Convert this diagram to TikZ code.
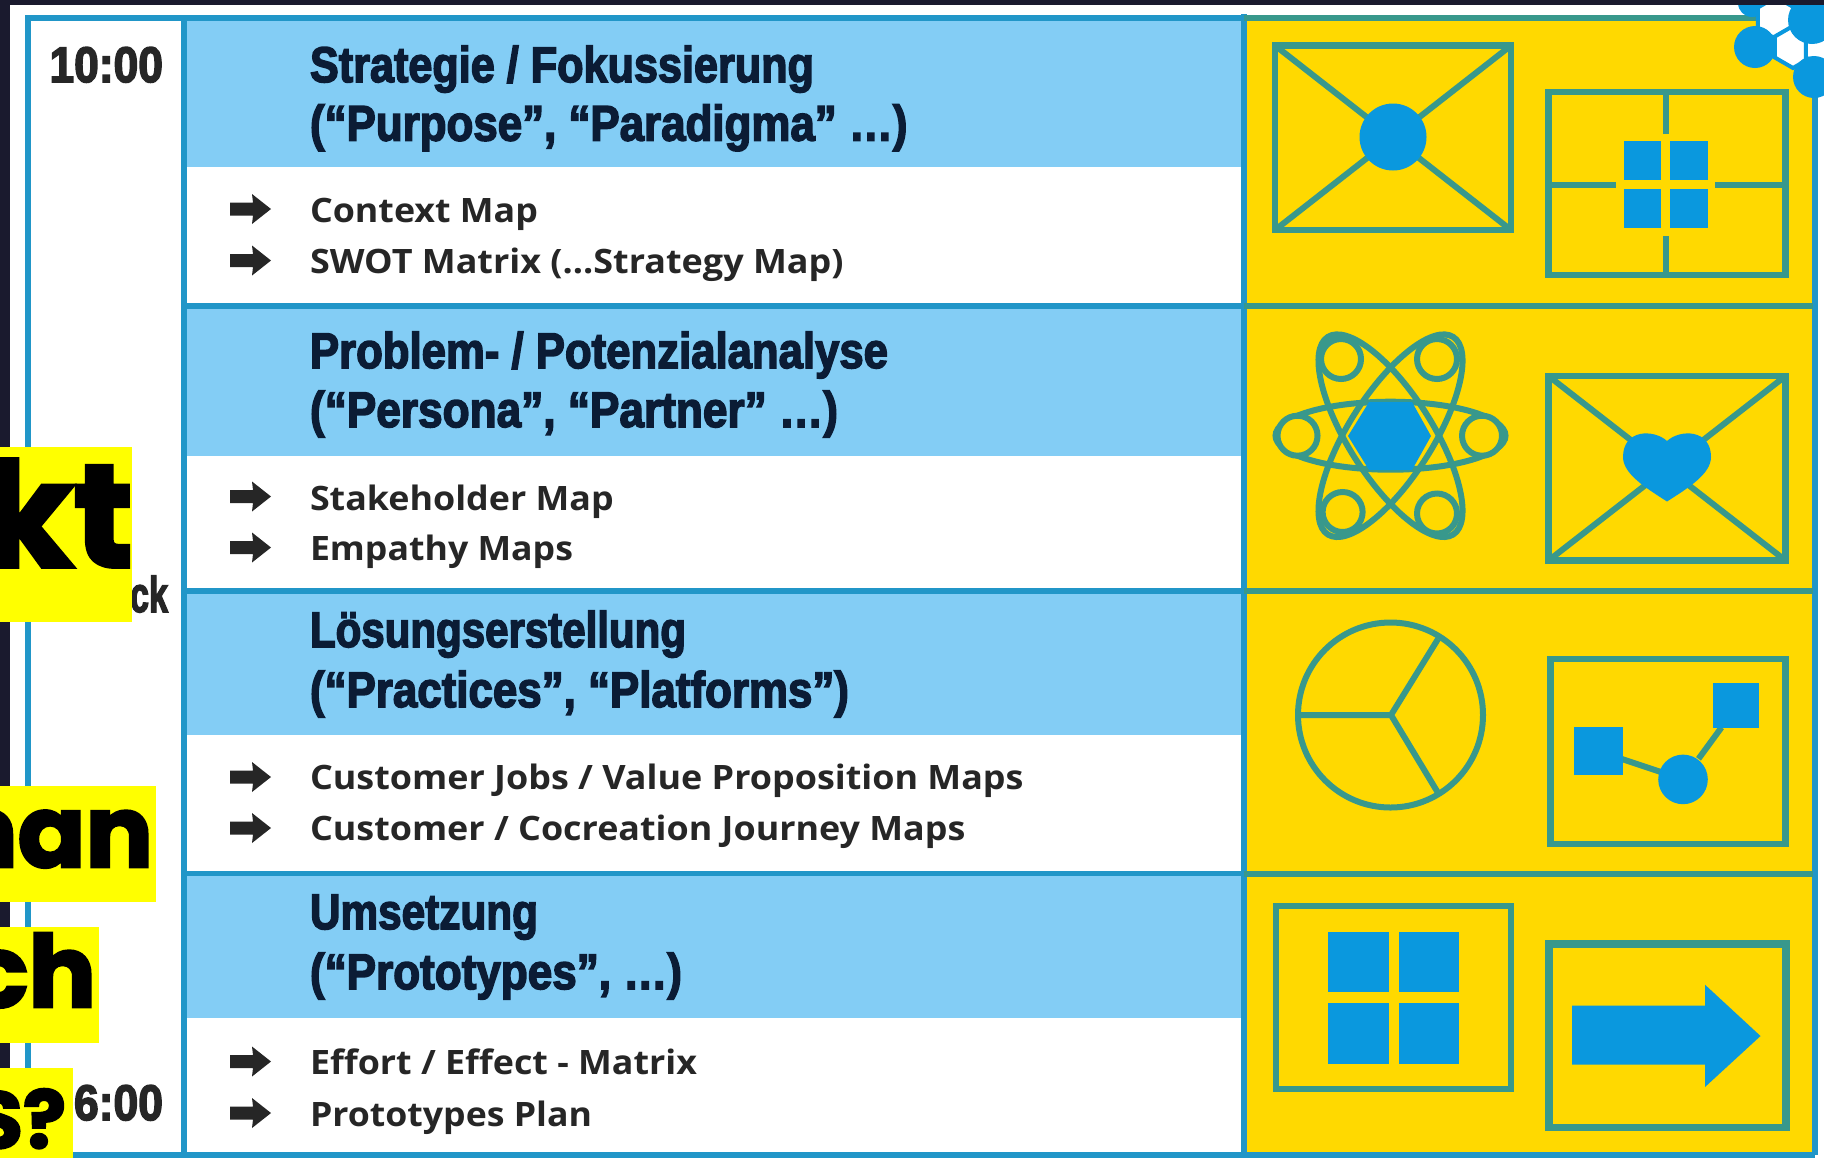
\documentclass[tikz,border=0pt]{standalone}
\usepackage{fontspec}
\usepackage{graphicx}
\setmainfont{Liberation Sans}
\newfontfamily\hdfont[FakeBold=3.2]{Liberation Sans Bold}
\newfontfamily\itfont{Open Sans}
\newfontfamily\bigfont[FakeBold=2.6]{Poppins Bold}
\definecolor{darkbg}{HTML}{1A1A2E}
\definecolor{frameblue}{HTML}{2196C8}
\definecolor{teal}{HTML}{38988C}
\definecolor{fillblue}{HTML}{0A98DE}
\definecolor{headblue}{HTML}{83CDF5}
\definecolor{panel}{HTML}{FFD900}
\definecolor{hilite}{HTML}{FFFF00}
\definecolor{hdtext}{HTML}{0B1C35}
\definecolor{ittext}{HTML}{262626}
\tikzset{
  frameline/.style={draw=frameblue,line width=2.9pt},
  panelline/.style={draw=teal,line width=3pt},
  iconbox/.style={draw=teal,line width=3.3pt,fill=none,miter limit=10},
  iconthin/.style={draw=teal,line width=3pt},
  bluefill/.style={fill=fillblue,draw=none},
  txt/.style={inner sep=0pt,outer sep=0pt,anchor=base west},
  txtr/.style={inner sep=0pt,outer sep=0pt,anchor=base east},
  hilitebox/.style={fill=hilite,draw=none},
  itemarrow/.style={fill=ittext,draw=none},
  hexcell/.style={fill=white,draw=fillblue,line width=2pt,line join=miter},
}
% name, x, baseline, x-end, text
\newcommand{\hdl}[5]{\node[txt,text=hdtext] (#1) at (#2,#3) {\resizebox{\dimexpr(#4pt-#2pt)/2\relax}{\height}{\fontsize{25}{25}\hdfont #5}};}
\newcommand{\itl}[5]{\node[txt,text=ittext] (#1) at (#2,#3) {\resizebox{\dimexpr(#4pt-#2pt)/2\relax}{\height}{\fontsize{16.8}{17}\itfont\bfseries #5}};}
\newcommand{\arw}[1]{\fill[itemarrow] (230,#1-6.5) -- (253,#1-6.5) -- (252,#1-15) -- (271,#1) -- (252,#1+15) -- (253,#1+6.5) -- (230,#1+6.5) -- cycle;}
\newcommand{\hexa}[3]{\path[hexcell] (#1,#2) ++(90:#3) -- ++(-30:#3) -- ++(-90:#3) -- ++(-150:#3) -- ++(150:#3) -- ++(90:#3) -- cycle;}
\begin{document}
\begin{tikzpicture}[x=0.5pt,y=-0.5pt]
\useasboundingbox (0,0) rectangle (1824,1158);
\begin{scope}
\clip (0,0) rectangle (1824,1158);
% page
\fill[white] (0,0) rectangle (1824,1158);
\fill[darkbg] (0,0) rectangle (10,1158);
% panels
\fill[panel] (1244,18) rectangle (1813,1155);
\foreach \a/\b in {18/166.5,306/456,591/735,873.5/1018}
  \fill[headblue] (184,\a) rectangle (1244,\b);
% frame
\draw[frameline] (28,18) -- (28,1155);
\draw[frameline] (184,18) -- (184,1155);
\draw[frameline] (1244,14) -- (1244,1155);
\draw[frameline] (1815,18) -- (1815,1155);
\draw[frameline] (25,18) -- (1244,18);
\draw[panelline] (1244,18) -- (1815,18);
\foreach \y in {306,591,873.5}{
  \draw[frameline] (184,\y) -- (1244,\y);
  \draw[panelline] (1244,\y) -- (1813,\y);
}
\draw[frameline] (25,1155) -- (1815,1155);
% icon A: envelope with circle
\draw[iconbox] (1275,45.5) rectangle (1511,230);
\draw[iconthin] (1275,45.5) -- (1511,230) (1511,45.5) -- (1275,230);
\fill[bluefill] (1393,137) circle (33.5);
% icon B: cross with squares
\draw[iconbox] (1548.5,92) rectangle (1785.5,275);
\draw[iconthin] (1666,92) -- (1666,133.5) (1666,236) -- (1666,275)
  (1548.5,185) -- (1615.5,185) (1715,185) -- (1785.5,185);
\fill[bluefill] (1624,141) rectangle (1661,180);
\fill[bluefill] (1670,141) rectangle (1708,180);
\fill[bluefill] (1624,189) rectangle (1661,228);
\fill[bluefill] (1670,189) rectangle (1708,228);
% icon C: atom
\begin{scope}[shift={(1390.5,435.7)}]
\draw[iconthin] (0,0) ellipse[x radius=115,y radius=34];
\draw[iconthin] (0,0) ellipse[x radius=117,y radius=42,rotate=57.6];
\draw[iconthin] (0,0) ellipse[x radius=117,y radius=42,rotate=-57.6];
\end{scope}
\foreach \p in {(1341,359),(1437,359),(1342.6,512),(1437,513.5),(1297.5,435.7),(1482,435.7)}
  \draw[iconthin,fill=panel] \p circle (20);
\fill[bluefill] (1348,436) -- (1369,402) -- (1412,402) -- (1431,436) -- (1412,470) -- (1369,470) -- cycle;
% icon D: envelope with heart
\draw[iconbox] (1548.5,376) rectangle (1785.5,560.5);
\draw[iconthin] (1548.5,376) -- (1785.5,560.5) (1785.5,376) -- (1548.5,560.5);
\fill[bluefill] (1667,441) .. controls (1680,429) and (1711,429) .. (1711,457)
  .. controls (1711,474) and (1688,488) .. (1667,501.5)
  .. controls (1646,488) and (1623,474) .. (1623,457)
  .. controls (1623,429) and (1654,429) .. (1667,441) -- cycle;
% icon E: pie
\draw[iconthin] (1390.5,715) circle (92.5);
\draw[iconthin] (1298.6,715) -- (1391,715) (1438,639) -- (1391,715) -- (1437.5,792);
% icon F: network
\draw[iconbox] (1550.5,659) rectangle (1785.5,844);
\draw[iconthin] (1622,759) -- (1660,771.7) (1698.5,758.8) -- (1721.5,727.4);
\fill[bluefill] (1574,727.4) rectangle (1623,774.6);
\fill[bluefill] (1713,682.5) rectangle (1759,728);
\fill[bluefill] (1683,779.4) circle (24.8);
% icon G: four squares
\draw[iconbox] (1276,906) rectangle (1511,1089);
\fill[bluefill] (1327.7,932) rectangle (1388.6,992);
\fill[bluefill] (1399,932) rectangle (1459.4,992);
\fill[bluefill] (1327.7,1003) rectangle (1388.6,1063.6);
\fill[bluefill] (1399,1003) rectangle (1459.4,1063.6);
% icon H: arrow box
\draw[iconbox,line width=3.6pt] (1549,944) rectangle (1786,1127.5);
\fill[bluefill] (1572,1005.7) -- (1705,1005.7) -- (1705,984.7) -- (1760.5,1036) -- (1705,1087) -- (1705,1064.7) -- (1572,1064.7) -- cycle;
% molecule
\fill[fillblue] (1752,3) circle (14);
\hexa{1776}{18}{21}
\hexa{1793}{47}{21}
\hexa{1824}{47}{21}
\fill[fillblue] (1755,47) circle (21);
\fill[fillblue] (1814,77) circle (21);
\fill[fillblue] (1812,20) circle (24);
% top dark band
\fill[darkbg] (0,0) rectangle (1824,5);
% times and leftover label
\node[txtr,text=ittext] (tstart) at (163,82) {\resizebox{56.75pt}{\height}{\fontsize{25}{25}\hdfont 10:00}};
\node[txtr,text=ittext] (tbreak) at (168,612) {\resizebox{19pt}{\height}{\fontsize{25}{25}\hdfont ck}};
\node[txtr,text=ittext] (tend) at (163,1120) {\resizebox{44.5pt}{\height}{\fontsize{25}{25}\hdfont 6:00}};
% headings
\hdl{ha}{310}{82}{814}{Strategie / Fokussierung}
\hdl{hb}{310}{140.6}{907.5}{(“Purpose”, “Paradigma” …)}
\hdl{hc}{310}{368}{888}{Problem- / Potenzialanalyse}
\hdl{hd}{310}{427}{838}{(“Persona”, “Partner” …)}
\hdl{he}{310}{647}{686}{Lösungserstellung}
\hdl{hf}{310}{707}{849}{(“Practices”, “Platforms”)}
\hdl{hg}{310}{929}{538}{Umsetzung}
\hdl{hh}{310}{989}{682}{(“Prototypes”, …)}
% items
\itl{ia}{310}{222}{538}{Context Map}
\itl{ib}{310}{273}{843.5}{SWOT Matrix (…Strategy Map)}
\itl{ic}{310}{510}{613.7}{Stakeholder Map}
\itl{id}{310}{560.5}{573}{Empathy Maps}
\itl{ie}{310}{789}{1023.6}{Customer Jobs / Value Proposition Maps}
\itl{if}{310}{840}{965.5}{Customer / Cocreation Journey Maps}
\itl{ig}{310}{1074}{697}{Effort / Effect - Matrix}
\itl{ih}{310}{1126}{592}{Prototypes Plan}
\arw{209}\arw{260.5}\arw{496.5}\arw{547.5}\arw{777}\arw{828}\arw{1061.5}\arw{1113}
% highlighted words over everything
\fill[hilitebox] (0,447) rectangle (132,622);
\fill[hilitebox] (0,786) rectangle (156,902);
\fill[hilitebox] (0,927) rectangle (99,1043);
\fill[hilitebox] (0,1068) rectangle (73,1158);
\node[txtr,text=black] (bigkt) at (133,567) {\fontsize{73}{73}\bigfont kt};
\node[txtr,text=black] (bighan) at (153,867) {\fontsize{50}{50}\bigfont han};
\node[txtr,text=black] (bigch) at (96,1007) {\fontsize{50}{50}\bigfont ch};
\node[txtr,text=black] (bigs) at (66,1148) {\fontsize{40}{40}\bigfont S?};
\end{scope}
\end{tikzpicture}
\end{document}
